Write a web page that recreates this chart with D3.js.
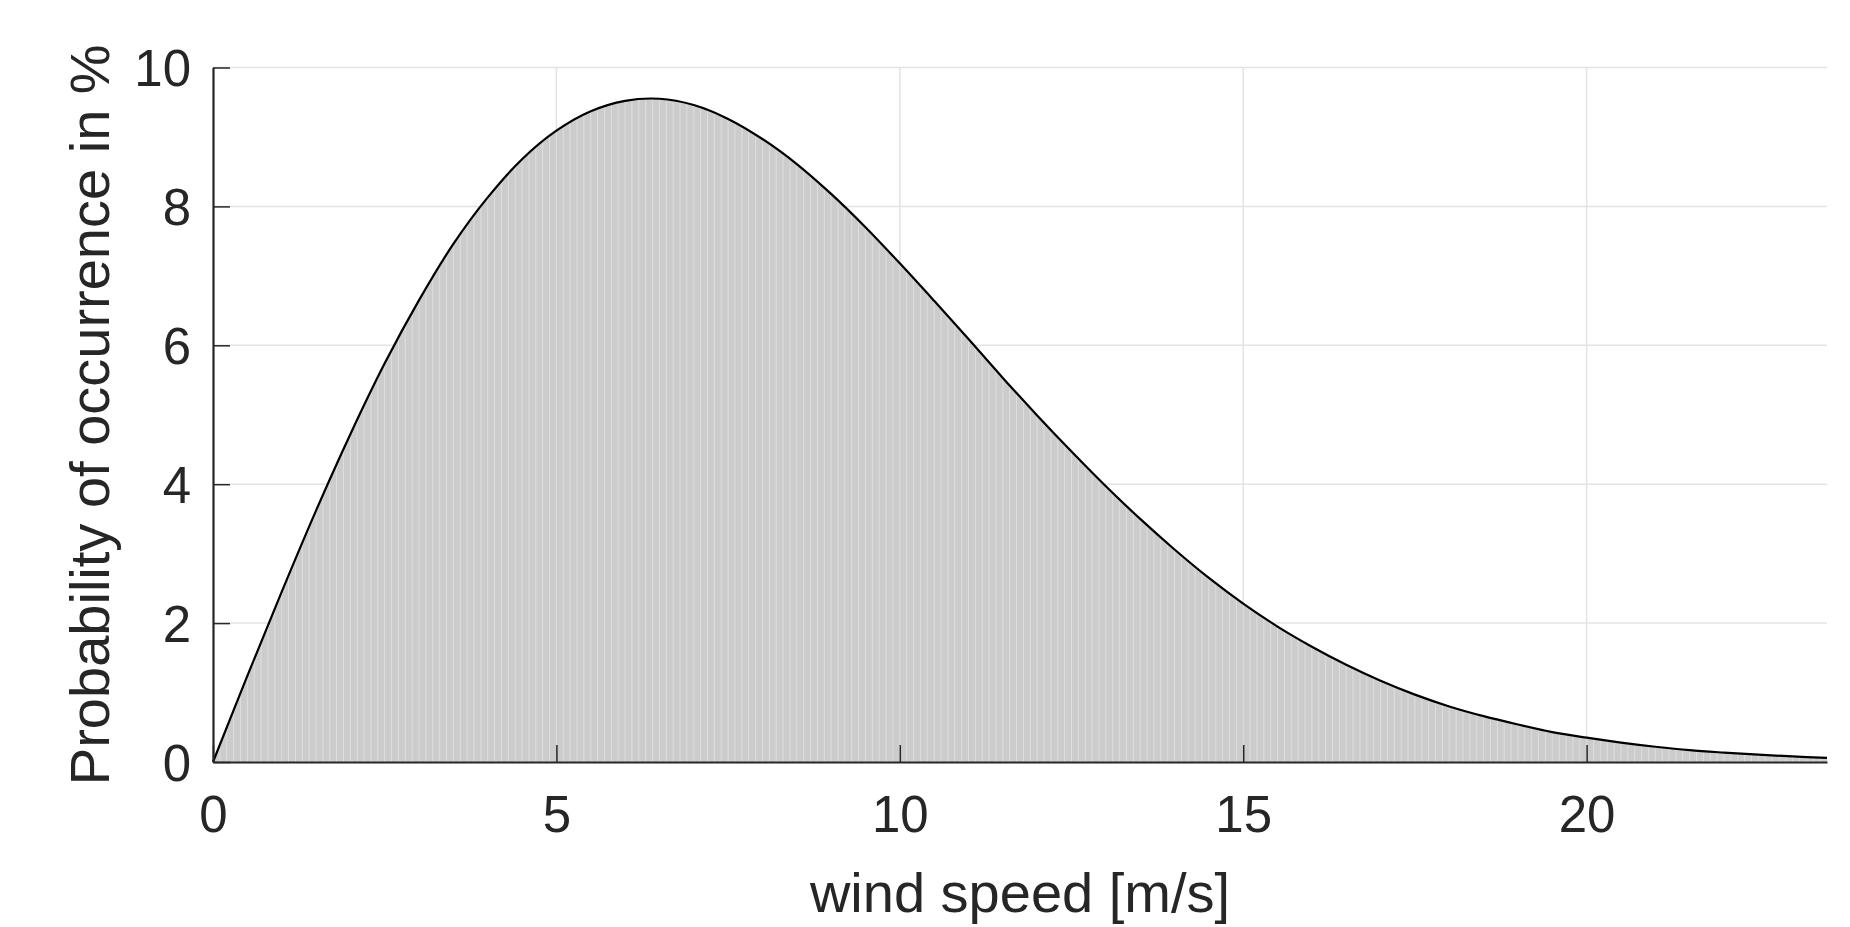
<!DOCTYPE html>
<html>
<head>
<meta charset="utf-8">
<script src="https://cdn.jsdelivr.net/npm/d3@7"></script>
<style>
  body { margin: 0; background: #fff; }
  svg text { font-family: "Liberation Sans", Arial, Helvetica, sans-serif; fill: #262626; }
</style>
</head>
<body>
<svg id="chart" width="1850" height="927"></svg>
<script>
// wind speed [m/s] and probability [%]
var windSpeed = [0, 0.5, 1, 1.5, 2, 2.5, 3, 3.5, 4, 4.5, 5, 5.5, 6, 6.5, 7, 7.5, 8, 8.5, 9, 9.5,
  10, 10.5, 11, 11.5, 12, 12.5, 13, 13.5, 14, 14.5, 15, 15.5, 16, 16.5, 17, 17.5, 18, 18.5, 19, 19.5,
  20, 20.5, 21, 21.5, 22, 22.5, 23, 23.5];
var probability = [0, 1.24, 2.45, 3.62, 4.72, 5.74, 6.65, 7.46, 8.13, 8.68, 9.09, 9.37, 9.52, 9.55, 9.46, 9.26,
  8.97, 8.61, 8.18, 7.70, 7.18, 6.64, 6.09, 5.53, 4.99, 4.47, 3.97, 3.50, 3.06, 2.65,
  2.28, 1.95, 1.66, 1.40, 1.17, 0.97, 0.80, 0.66, 0.54, 0.43, 0.35, 0.28, 0.22, 0.17, 0.135, 0.105, 0.08, 0.06];
var xTicks = [0, 5, 10, 15, 20];
var yTicks = [0, 2, 4, 6, 8, 10];
var binWidth = 0.1;

var data = windSpeed.map(function (d, i) { return { v: d, p: probability[i] }; });

var svg = d3.select("#chart"),
  margin = { top: 67.5, right: 23, bottom: 165, left: 213 },
  width = +svg.attr("width") - margin.left - margin.right,
  height = +svg.attr("height") - margin.top - margin.bottom;

var x = d3.scaleLinear().domain([0, 23.5]).range([0, width]),
  y = d3.scaleLinear().domain([0, 10]).range([height, 0]);

var g = svg.append("g")
  .attr("transform", "translate(" + margin.left + "," + margin.top + ")");

// grid
g.selectAll(".gx").data(xTicks.slice(1)).enter().append("line")
  .attr("x1", function (d) { return x(d); }).attr("x2", function (d) { return x(d); })
  .attr("y1", 0).attr("y2", height)
  .attr("stroke", "#e3e3e3").attr("stroke-width", 1.5);
g.selectAll(".gy").data(yTicks.slice(1)).enter().append("line")
  .attr("x1", 0).attr("x2", width)
  .attr("y1", function (d) { return y(d); }).attr("y2", function (d) { return y(d); })
  .attr("stroke", "#e3e3e3").attr("stroke-width", 1.5);

var area = d3.area().curve(d3.curveCatmullRom)
  .x(function (d) { return x(d.v); }).y0(height).y1(function (d) { return y(d.p); });
var line = d3.line().curve(d3.curveCatmullRom)
  .x(function (d) { return x(d.v); }).y(function (d) { return y(d.p); });

svg.append("defs").append("clipPath").attr("id", "under")
  .append("path").attr("d", area(data));

g.append("path").attr("d", area(data)).attr("fill", "#cccccc");

// thin bin edges of the histogram bars
var edges = d3.range(0, 23.5, binWidth);
g.append("g").attr("clip-path", "url(#under)")
  .selectAll("line").data(edges).enter().append("line")
  .attr("x1", function (d) { return x(d); }).attr("x2", function (d) { return x(d); })
  .attr("y1", 0).attr("y2", height)
  .attr("stroke", "#dedede").attr("stroke-width", 1);

g.append("path").attr("d", line(data))
  .attr("fill", "none").attr("stroke", "#000").attr("stroke-width", 2.2);

// axes
var tickLen = 17;
var xAxis = g.append("g").attr("transform", "translate(0," + height + ")")
  .call(d3.axisBottom(x).tickValues(xTicks).tickSize(-tickLen).tickPadding(34).tickSizeOuter(0));
var yAxis = g.append("g")
  .call(d3.axisLeft(y).tickValues(yTicks).tickSize(-tickLen).tickPadding(22).tickSizeOuter(0));

[xAxis, yAxis].forEach(function (a) {
  a.select(".domain").attr("stroke", "#262626").attr("stroke-width", 2.2);
  a.selectAll(".tick line").attr("stroke", "#262626").attr("stroke-width", 1.5);
  a.selectAll("text").style("font-size", "51px").attr("fill", "#262626");
});
yAxis.selectAll("text").attr("dy", "0.36em");

g.append("text")
  .attr("x", width / 2).attr("y", height + 150)
  .attr("text-anchor", "middle")
  .style("font-size", "56px")
  .text("wind speed [m/s]");

g.append("text")
  .attr("transform", "rotate(-90)")
  .attr("x", -height / 2).attr("y", -104)
  .attr("text-anchor", "middle")
  .style("font-size", "56px")
  .text("Probability of occurrence in %");
</script>
</body>
</html>
